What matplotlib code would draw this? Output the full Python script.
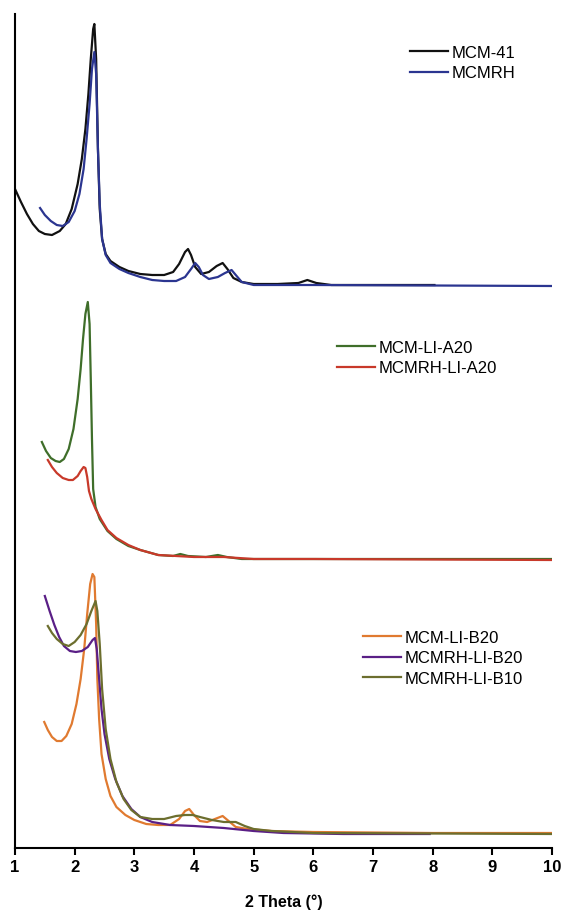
import matplotlib.pyplot as plt

# 2 theta (deg) and intensity (a.u.), each group has its own baseline offset
x_mcm41 = [1.00, 1.10, 1.20, 1.30, 1.40, 1.50, 1.62, 1.75, 1.85, 1.95, 2.05, 2.12, 2.18, 2.23, 2.27,
           2.31, 2.33, 2.36, 2.39, 2.42, 2.46, 2.52, 2.60, 2.75, 2.90, 3.10, 3.30, 3.50, 3.65, 3.75,
           3.85, 3.90, 3.95, 4.02, 4.12, 4.25, 4.38, 4.48, 4.56, 4.66, 4.80, 5.00, 5.40, 5.75, 5.90,
           6.05, 6.30, 7.00, 8.03]
y_mcm41 = [96, 83, 71, 61, 54, 51, 50, 54, 61, 76, 101, 126, 156, 191, 226,
           256, 261, 226, 136, 76, 46, 31, 24, 18, 14, 11, 10, 10, 13, 21,
           33, 36, 30, 18, 11, 13, 19, 22, 16, 7, 3, 1, 1, 2, 5,
           2, 0, 0, 0]

x_mcmrh = [1.42, 1.50, 1.60, 1.70, 1.80, 1.90, 2.00, 2.08, 2.15, 2.20, 2.25, 2.29, 2.33, 2.36, 2.39,
           2.42, 2.46, 2.52, 2.60, 2.75, 2.90, 3.10, 3.30, 3.50, 3.70, 3.85, 3.95, 4.02, 4.08, 4.15,
           4.25, 4.40, 4.52, 4.63, 4.70, 4.80, 5.00, 6.00, 10.00]
y_mcmrh = [77, 70, 64, 60, 59, 63, 74, 91, 116, 146, 181, 216, 233, 211, 136,
           81, 46, 30, 22, 16, 12, 8, 5, 4, 4, 8, 16, 22, 18, 10,
           6, 8, 12, 15, 10, 3, 0, 0, -1]

x_mcm_a20 = [1.45, 1.52, 1.60, 1.68, 1.75, 1.82, 1.90, 1.98, 2.05, 2.10, 2.14, 2.18, 2.22, 2.25, 2.27,
             2.29, 2.31, 2.35, 2.42, 2.55, 2.70, 2.90, 3.10, 3.40, 3.65, 3.77, 3.90, 4.20, 4.40, 4.55,
             4.80, 5.50, 10.00]
y_mcm_a20 = [117, 108, 101, 98, 97, 100, 110, 130, 160, 190, 220, 245, 257, 235, 180,
             120, 70, 52, 40, 28, 20, 13, 9, 4, 3, 5, 3, 2, 4, 2,
             0, 0, 0]

x_mcmrh_a20 = [1.55, 1.62, 1.70, 1.80, 1.90, 1.97, 2.05, 2.10, 2.15, 2.18, 2.21, 2.24, 2.28, 2.35, 2.45,
               2.55, 2.70, 2.90, 3.10, 3.40, 3.70, 4.00, 4.50, 5.00, 6.00, 10.00]
y_mcmrh_a20 = [99, 92, 86, 81, 79, 79, 83, 88, 92, 91, 82, 68, 60, 50, 39,
               29, 21, 14, 9, 4, 3, 2, 2, 0, 0, -1]

x_mcm_b20 = [1.49, 1.55, 1.62, 1.70, 1.78, 1.86, 1.95, 2.03, 2.10, 2.16, 2.21, 2.26, 2.30, 2.33, 2.36,
             2.38, 2.41, 2.45, 2.52, 2.60, 2.70, 2.85, 3.00, 3.20, 3.40, 3.60, 3.75, 3.85, 3.92, 4.00,
             4.10, 4.22, 4.35, 4.48, 4.58, 4.70, 4.90, 5.30, 6.00, 8.00, 10.00]
y_mcm_b20 = [111, 103, 96, 92, 92, 97, 109, 129, 154, 184, 219, 249, 259, 256, 209,
             154, 114, 79, 54, 37, 26, 18, 13, 9, 8, 8, 14, 22, 24, 18,
             12, 11, 14, 17, 12, 6, 4, 2, 1, 0, 0]

x_mcmrh_b20 = [1.50, 1.58, 1.66, 1.74, 1.82, 1.92, 2.02, 2.12, 2.22, 2.30, 2.34, 2.37, 2.41, 2.45, 2.50,
               2.58, 2.68, 2.80, 2.95, 3.10, 3.30, 3.60, 4.00, 4.50, 5.00, 5.50, 6.50, 7.95]
y_mcmrh_b20 = [237, 222, 208, 196, 187, 182, 181, 182, 186, 193, 195, 184, 154, 124, 99,
               74, 54, 37, 24, 16, 11, 8, 7, 5, 2, 0, -1, -1]

x_mcmrh_b10 = [1.55, 1.62, 1.70, 1.80, 1.90, 2.00, 2.10, 2.20, 2.28, 2.35, 2.38, 2.42, 2.46, 2.52, 2.60,
               2.70, 2.82, 2.95, 3.10, 3.30, 3.50, 3.70, 3.85, 3.98, 4.10, 4.30, 4.50, 4.70, 4.85, 5.00,
               5.30, 6.00, 10.00]
y_mcmrh_b10 = [207, 200, 194, 189, 187, 191, 198, 209, 222, 232, 222, 189, 144, 104, 74,
               51, 34, 23, 16, 14, 14, 17, 18, 18, 16, 13, 11, 11, 7, 4,
               2, 0, -1]

offset_top = 563
offset_mid = 289
offset_bot = 15

plt.rcParams['font.family'] = ['Liberation Sans', 'DejaVu Sans']
fig = plt.figure(figsize=(5.63, 9.12), dpi=100)
ax = fig.add_axes([15 / 563, 63 / 912, 537 / 563, 834 / 912])

lw = 1.6
l1, = ax.plot(x_mcm41, [v + offset_top for v in y_mcm41], color='#111111', lw=lw, label='MCM-41')
l2, = ax.plot(x_mcmrh, [v + offset_top for v in y_mcmrh], color='#2b3590', lw=lw, label='MCMRH')
l3, = ax.plot(x_mcm_a20, [v + offset_mid for v in y_mcm_a20], color='#3f6e2a', lw=lw, label='MCM-LI-A20')
l4, = ax.plot(x_mcmrh_a20, [v + offset_mid for v in y_mcmrh_a20], color='#c8392a', lw=lw, label='MCMRH-LI-A20')
l5, = ax.plot(x_mcm_b20, [v + offset_bot for v in y_mcm_b20], color='#e07a30', lw=lw, label='MCM-LI-B20')
l6, = ax.plot(x_mcmrh_b20, [v + offset_bot for v in y_mcmrh_b20], color='#5a1f86', lw=lw, label='MCMRH-LI-B20')
l7, = ax.plot(x_mcmrh_b10, [v + offset_bot for v in y_mcmrh_b10], color='#6c6e2e', lw=lw, label='MCMRH-LI-B10')

ax.set_xlim(1, 10)
ax.set_ylim(0, 834)
ax.set_xticks(range(1, 11))
ax.set_yticks([])
for s in ['top', 'right']:
    ax.spines[s].set_visible(False)
ax.spines['left'].set_linewidth(1.5)
ax.spines['bottom'].set_linewidth(1.5)
ax.tick_params(axis='x', direction='out', length=5, width=1.5, labelsize=12, pad=3)
for t in ax.get_xticklabels():
    t.set_fontweight('bold')
ax.set_xlabel('2 Theta (°)', fontsize=11.5, fontweight='bold', labelpad=14)

leg_kw = dict(frameon=False, fontsize=12, handlelength=2.3, handletextpad=0.2,
              labelspacing=0.32, borderpad=0, borderaxespad=0, loc='upper left')
leg1 = ax.legend(handles=[l1, l2], bbox_to_anchor=(410 / 563, 1 - 46 / 912),
                 bbox_transform=fig.transFigure, **leg_kw)
ax.add_artist(leg1)
leg2 = ax.legend(handles=[l3, l4], bbox_to_anchor=(337 / 563, 1 - 341 / 912),
                 bbox_transform=fig.transFigure, **leg_kw)
ax.add_artist(leg2)
leg3 = ax.legend(handles=[l5, l6, l7], bbox_to_anchor=(363 / 563, 1 - 631 / 912),
                 bbox_transform=fig.transFigure, **leg_kw)

fig.savefig('out.png', dpi=100)
